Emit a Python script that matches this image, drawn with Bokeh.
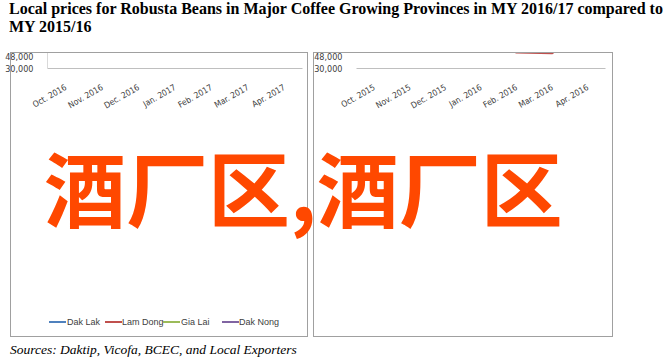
from bokeh.plotting import figure
from bokeh.models import (Range1d, FactorRange, FixedTicker, NumeralTickFormatter,
                          Legend, LegendItem, Div)
from bokeh.layouts import column, row
from bokeh.embed import file_html
from bokeh.resources import INLINE
import math

# ---------------- data ----------------
months_1617 = ["Oct. 2016", "Nov. 2016", "Dec. 2016", "Jan. 2017", "Feb. 2017", "Mar. 2017", "Apr. 2017"]
dak_lak_1617 = [42500, 43800, 43600, 46200, 44600, 46550, 46750]
lam_dong_1617 = [42000, 43400, 43300, 45050, 43300, 45950, 46100]
gia_lai_1617 = [42750, 43800, 43700, 46050, 45000, 46700, 47050]
dak_nong_1617 = [42400, 43850, 43950, 46250, 45050, 46500, 46150]

months_1516 = ["Oct. 2015", "Nov. 2015", "Dec. 2015", "Jan. 2016", "Feb. 2016", "Mar. 2016", "Apr. 2016"]
dak_lak_1516 = [35800, 40650, 39800, 32300, 31350, 31450, 34000]
lam_dong_1516 = [35300, 40350, 39500, 31950, 31050, 31000, 33250]
gia_lai_1516 = [35500, 40450, 39600, 32000, 31100, 31100, 33400]
dak_nong_1516 = [35000, 40550, 39700, 32150, 31100, 31100, 33600]

provinces = ["Dak Lak", "Lam Dong", "Gia Lai", "Dak Nong"]
colors = ["#4F81BD", "#C0504D", "#9BBB59", "#8064A2"]
y_ticks = [30000, 32000, 34000, 36000, 38000, 40000, 42000, 44000, 46000, 48000]

title_text = "Local prices for Robusta Beans in Major Coffee Growing Provinces in MY 2016/17 compared to"
title_text2 = "MY 2015/16"
source_text = "Sources: Daktip, Vicofa, BCEC, and Local Exporters"
watermark_text = "酒厂区,酒厂区"

NARROW = "'Liberation Sans Narrow', 'DejaVu Sans Condensed', sans-serif"
FIG_H = 287


def make_chart(months, series, width, border_left, border_right, frame_bottom, with_legend):
    p = figure(width=width, height=FIG_H, x_range=FactorRange(*months, range_padding=0),
               y_range=Range1d(30000, 48000), output_backend="svg", toolbar_location=None,
               min_border_left=border_left, min_border_right=border_right, min_border_top=16,
               min_border_bottom=FIG_H - frame_bottom)
    p.outline_line_color = None
    p.background_fill_color = "white"
    p.border_fill_color = "white"
    p.xgrid.grid_line_color = None
    p.ygrid.grid_line_color = None

    p.yaxis.ticker = FixedTicker(ticks=y_ticks)
    p.yaxis.formatter = NumeralTickFormatter(format="0,0")
    p.yaxis.axis_line_color = "#D9D9D9" if border_left > 40 else None
    p.yaxis.major_tick_line_color = None
    p.yaxis.minor_tick_line_color = None
    p.yaxis.major_label_text_font = NARROW
    p.yaxis.major_label_text_font_size = "9px"
    p.yaxis.major_label_text_color = "#404040"
    p.yaxis.major_label_standoff = 8

    p.xaxis.axis_line_color = "#BFBFBF"
    p.xaxis.major_tick_line_color = None
    p.xaxis.minor_tick_line_color = None
    p.xaxis.major_label_orientation = math.radians(30)
    p.xaxis.major_label_text_font = NARROW
    p.xaxis.major_label_text_font_size = "8.5px"
    p.xaxis.major_label_text_color = "#404040"
    p.xaxis.major_label_standoff = 12

    items = []
    for name, vals, c in zip(provinces, series, colors):
        r = p.line(x=months, y=vals, line_color=c, line_width=2.5)
        items.append(LegendItem(label=name, renderers=[r]))

    if with_legend:
        legend = Legend(items=items, location="top_left", orientation="horizontal",
                        border_line_color=None, background_fill_alpha=0,
                        label_text_font=NARROW, label_text_font_size="9px",
                        label_text_color="#404040", glyph_width=17, glyph_height=12,
                        label_height=12, label_standoff=2, spacing=12, padding=2, margin=0)
        p.add_layout(legend, "below")
    return p


left = make_chart(months_1617, [dak_lak_1617, lam_dong_1617, gia_lai_1617, dak_nong_1617],
                  311, 47, 9, 198, False)
right = make_chart(months_1516, [dak_lak_1516, lam_dong_1516, gia_lai_1516, dak_nong_1516],
                   305, 39, 11, 196, True)

legend_left_pos = [(49, 67), (105, 122), (163, 181), (222, 239)]
legend_html = ""
for (lx, tx), name, c in zip(legend_left_pos, provinces, colors):
    legend_html += (f"<div style='position:absolute;left:{lx}px;top:321px;width:17px;height:2px;"
                    f"background:{c}'></div>"
                    f"<div style=\"position:absolute;left:{tx}px;top:316px;white-space:nowrap;"
                    f"font-family:'Liberation Sans',sans-serif;font-size:9px;line-height:12px;"
                    f"color:#404040\">{name}</div>")

boxes_html = (
    "<div style='position:absolute;left:10px;top:52px;width:298px;height:285px;box-sizing:border-box;"
    "border:1px solid #A0A0A0;pointer-events:none'></div>"
    "<div style='position:absolute;left:313px;top:52px;width:300px;height:285px;box-sizing:border-box;"
    "border:1px solid #A0A0A0;pointer-events:none'></div>"
)

header_html = (
    "<div style='position:relative;width:665px;height:52px'>"
    "<div style=\"position:absolute;left:9px;top:0px;width:656px;white-space:nowrap;overflow-x:clip;"
    "font-family:'Liberation Serif',serif;font-weight:bold;font-size:16px;line-height:18px;color:#000\">"
    f"{title_text}<br>{title_text2}</div>"
    f"<div style='position:absolute;left:0;top:0;z-index:40'>{boxes_html}{legend_html}</div>"
    "<div style=\"position:absolute;left:44px;top:145px;white-space:nowrap;z-index:50;"
    "font-family:'Noto Sans CJK SC',sans-serif;font-weight:bold;font-size:82px;line-height:82px;"
    f"color:#FF4800;pointer-events:none\">{watermark_text}</div>"
    "<div style=\"position:absolute;left:10px;top:342px;white-space:nowrap;"
    "font-family:'Liberation Serif',serif;font-style:italic;font-size:13.5px;line-height:16px;color:#000\">"
    f"{source_text}</div>"
    "</div>"
)
header = Div(text=header_html, width=665, height=52, margin=(0, 0, 0, 0),
             styles={"overflow": "visible", "z-index": "50"})

layout = column(header, row(left, right))
open("out.html", "w").write(file_html(layout, INLINE))
